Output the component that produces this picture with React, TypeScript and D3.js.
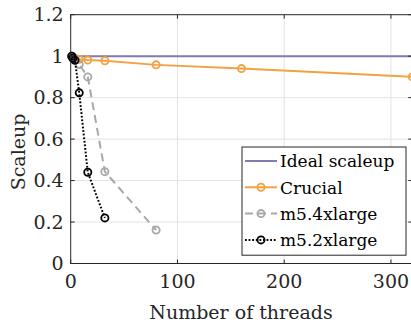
import React from "react";
import * as d3 from "d3";

const W = 411;
const H = 326;
const margin = { top: 14.7, left: 70.7, right: -1.3, bottom: 62.5 };

const xTicks = [0, 100, 200, 300];
const yTicks = [0, 0.2, 0.4, 0.6, 0.8, 1, 1.2];

const idealThreads = [1, 320];
const idealValues = [1, 1];

const crucialThreads = [1, 2, 4, 8, 16, 32, 80, 160, 320];
const crucialValues = [1, 0.995, 0.99, 0.985, 0.981, 0.978, 0.958, 0.94, 0.9];

const m54Threads = [1, 2, 4, 8, 16, 32, 80];
const m54Values = [1, 0.995, 0.985, 0.96, 0.9, 0.443, 0.161];

const m52Threads = [1, 2, 4, 8, 16, 32];
const m52Values = [1, 0.99, 0.98, 0.823, 0.44, 0.22];

const series = [
  { name: "Ideal scaleup", x: idealThreads, y: idealValues, color: "#7e7cb2", dash: "", marker: false },
  { name: "Crucial", x: crucialThreads, y: crucialValues, color: "#f4a142", dash: "", marker: true },
  { name: "m5.4xlarge", x: m54Threads, y: m54Values, color: "#a8a8a8", dash: "8,5", marker: true },
  { name: "m5.2xlarge", x: m52Threads, y: m52Values, color: "#000000", dash: "1.8,1.8", marker: true },
];

const font = "'DejaVu Serif'";
const axisColor = "#262626";

export default function App() {
  const iw = W - margin.left - margin.right;
  const ih = H - margin.top - margin.bottom;
  const x = d3.scaleLinear().domain([0, 320]).range([0, iw]);
  const y = d3.scaleLinear().domain([0, 1.2]).range([ih, 0]);
  const line = d3.line<[number, number]>().x((d) => x(d[0])).y((d) => y(d[1]));

  // legend box
  const lg = { x: 242 - margin.left, y: 147 - margin.top, w: 164, rowH: 26.3 };

  return (
    <svg width={W} height={H} fontFamily={font} style={{ position: "absolute", left: 0, top: 0 }}>
      <rect width={W} height={H} fill="#fff" />
      <g transform={`translate(${margin.left},${margin.top})`}>
        {/* grid */}
        {xTicks.slice(1).map((t) => (
          <line key={"gx" + t} x1={x(t)} x2={x(t)} y1={0} y2={ih} stroke="#e3e3e3" strokeWidth={1} />
        ))}
        {yTicks.slice(1, -1).map((t) => (
          <line key={"gy" + t} x1={0} x2={iw} y1={y(t)} y2={y(t)} stroke="#e3e3e3" strokeWidth={1} />
        ))}
        {/* series */}
        {series.map((s) => {
          const pts = s.x.map((v, i) => [v, s.y[i]] as [number, number]);
          return (
            <g key={s.name}>
              <path d={line(pts) || ""} fill="none" stroke={s.color} strokeWidth={2} strokeDasharray={s.dash} />
              {s.marker &&
                pts.map((p, i) => (
                  <circle key={i} cx={x(p[0])} cy={y(p[1])} r={3.6} fill="none" stroke={s.color} strokeWidth={1.8} />
                ))}
            </g>
          );
        })}
        {/* axes box */}
        <rect x={0} y={0} width={iw} height={ih} fill="none" stroke={axisColor} strokeWidth={1} />
        {xTicks.map((t) => (
          <g key={"xt" + t}>
            <line x1={x(t)} x2={x(t)} y1={ih} y2={ih - 4} stroke={axisColor} />
            <line x1={x(t)} x2={x(t)} y1={0} y2={4} stroke={axisColor} />
            <text x={x(t)} y={ih + 25} textAnchor="middle" fontSize={19} fill={axisColor}>
              {t}
            </text>
          </g>
        ))}
        {yTicks.map((t) => (
          <g key={"yt" + t}>
            <line x1={0} x2={4} y1={y(t)} y2={y(t)} stroke={axisColor} />
            <line x1={iw} x2={iw - 4} y1={y(t)} y2={y(t)} stroke={axisColor} />
            <text x={-7} y={y(t) + 6.5} textAnchor="end" fontSize={19} fill={axisColor}>
              {d3.format("~g")(t)}
            </text>
          </g>
        ))}
        {/* legend */}
        <rect x={lg.x} y={lg.y} width={lg.w} height={lg.rowH * 4 + 3} fill="#fff" stroke={axisColor} strokeWidth={1} />
        {series.map((s, i) => {
          const cy = lg.y + 14 + i * lg.rowH;
          return (
            <g key={"lg" + s.name}>
              <line x1={lg.x + 3} x2={lg.x + 35} y1={cy} y2={cy} stroke={s.color} strokeWidth={2} strokeDasharray={s.dash} />
              {s.marker && <circle cx={lg.x + 19} cy={cy} r={3.6} fill="none" stroke={s.color} strokeWidth={1.8} />}
              <text x={lg.x + 38} y={cy + 6.5} fontSize={17} fill="#000">
                {s.name}
              </text>
            </g>
          );
        })}
      </g>
      <text x={241} y={319} textAnchor="middle" fontSize={19} fill={axisColor}>
        Number of threads
      </text>
      <text transform="translate(25,152) rotate(-90)" textAnchor="middle" fontSize={19} fill={axisColor}>
        Scaleup
      </text>
    </svg>
  );
}
